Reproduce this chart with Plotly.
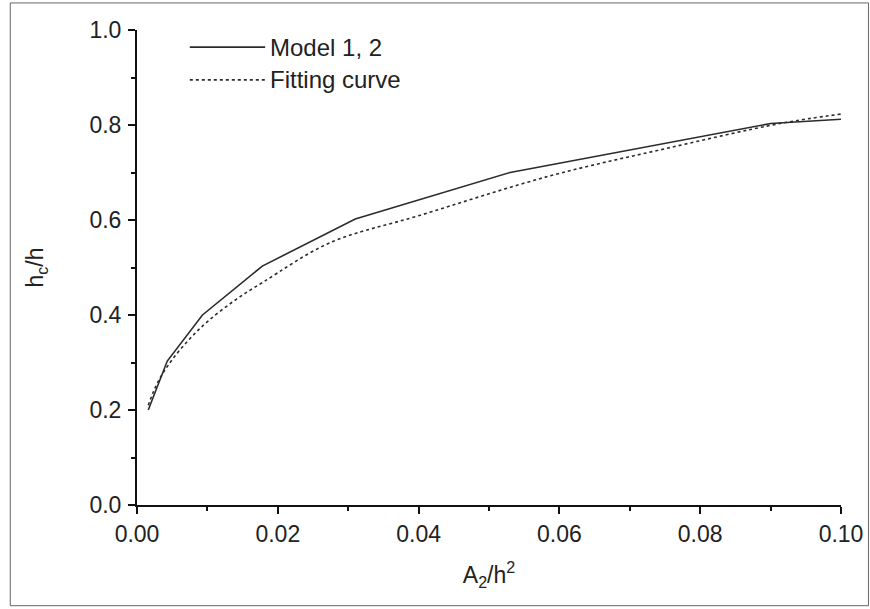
import plotly.graph_objects as go

# Data
model_x = [0.0016, 0.0043, 0.0093, 0.0178, 0.031, 0.053, 0.090, 0.100]
model_y = [0.200, 0.303, 0.400, 0.503, 0.602, 0.700, 0.803, 0.812]

fit_x = [0.0016, 0.003, 0.005, 0.0075, 0.010, 0.014, 0.018, 0.0274, 0.040, 0.0587, 0.075, 0.0913, 0.100]
fit_y = [0.210, 0.260, 0.306, 0.350, 0.386, 0.432, 0.470, 0.552, 0.609, 0.693, 0.750, 0.803, 0.823]

x_ticks = [0.00, 0.02, 0.04, 0.06, 0.08, 0.10]
x_tick_labels = ["0.00", "0.02", "0.04", "0.06", "0.08", "0.10"]
y_ticks = [0.0, 0.2, 0.4, 0.6, 0.8, 1.0]
y_tick_labels = ["0.0", "0.2", "0.4", "0.6", "0.8", "1.0"]

legend_names = ["Model 1, 2", "Fitting curve"]

FONT = "Liberation Sans, Arial, sans-serif"
INK = "#2b2b2b"
TXT = "#222"

fig = go.Figure()
fig.add_trace(go.Scatter(x=model_x, y=model_y, mode="lines", name=legend_names[0],
                         line=dict(color=INK, width=1.6), showlegend=False))
fig.add_trace(go.Scatter(x=fit_x, y=fit_y, mode="lines", name=legend_names[1],
                         line=dict(color=INK, width=1.6, dash="dot", shape="spline"),
                         showlegend=False))

axis_common = dict(showline=True, linecolor="#111", linewidth=2, ticks="outside",
                   ticklen=7, tickwidth=2, tickcolor="#111", showgrid=False,
                   zeroline=False, mirror=False, automargin=False,
                   tickfont=dict(family=FONT, size=23, color=TXT))

fig.update_xaxes(range=[0, 0.1], tickvals=x_ticks, ticktext=x_tick_labels,
                 minor=dict(dtick=0.01, ticks="outside", ticklen=4, tickwidth=2, tickcolor="#111"),
                 title=dict(text="A<sub>2</sub>/h<sup>2</sup>", font=dict(family=FONT, size=23, color=TXT),
                            standoff=21),
                 **axis_common)
fig.update_yaxes(range=[0, 1.0], tickvals=y_ticks, ticktext=y_tick_labels,
                 minor=dict(dtick=0.1, ticks="outside", ticklen=4, tickwidth=2, tickcolor="#111"),
                 title=dict(text="h<sub>c</sub>/h", font=dict(family=FONT, size=23, color=TXT),
                            standoff=39),
                 ticklabelstandoff=2,
                 **axis_common)

# Manual legend (lines + labels)
leg_y = [0.964, 0.895]
leg_dash = ["solid", "dot"]
for name, yy, dash in zip(legend_names, leg_y, leg_dash):
    fig.add_shape(type="line", xref="paper", yref="paper", x0=0.075, x1=0.182, y0=yy, y1=yy,
                  line=dict(color=INK, width=1.6, dash=dash))
    fig.add_annotation(xref="paper", yref="paper", x=0.186, y=yy, text=name, showarrow=False,
                       xanchor="left", yanchor="middle",
                       font=dict(family=FONT, size=24, color=TXT))

# outer frame of the picture
fig.add_shape(type="rect", xref="paper", yref="paper", x0=-0.180, x1=1.039, y0=-0.212, y1=1.057,
              line=dict(color="#666", width=1))

fig.update_layout(width=870, height=609, margin=dict(l=137, r=29, t=30, b=104),
                  paper_bgcolor="white", plot_bgcolor="white", showlegend=False,
                  font=dict(family=FONT))

fig.write_html("out.html", config={"displayModeBar": False},
               post_script="document.body.style.margin='0';document.body.style.overflow='hidden';")
